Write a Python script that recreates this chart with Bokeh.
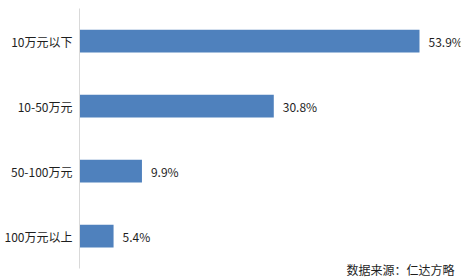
from bokeh.plotting import figure
from bokeh.models import ColumnDataSource, Label, Range1d, FixedTicker
from bokeh.core.properties import value
from bokeh.embed import file_html
from bokeh.resources import INLINE

# Investment scale buckets and their shares (%)
categories = ["10万元以下", "10-50万元", "50-100万元", "100万元以上"]
shares = [53.9, 30.8, 9.9, 5.4]
share_labels = ["53.9%", "30.8%", "9.9%", "5.4%"]
source_note = "数据来源：仁达方略"

FONT = "Noto Sans CJK SC"
TEXT_COLOR = "#1e1e1e"
BAR_COLOR = "#4F81BD"

# first category at the top
n = len(categories)
ypos = [n - i for i in range(n)]

src = ColumnDataSource(dict(y=ypos, val=shares, lab=share_labels))

p = figure(
    width=471, height=279,
    y_range=Range1d(0.331, n + 0.5),
    x_range=Range1d(0, 60.4),
    output_backend="svg", toolbar_location=None,
    min_border_left=79, min_border_right=11,
    min_border_top=8, min_border_bottom=0,
)
p.outline_line_color = None
p.background_fill_color = "white"
p.border_fill_color = "white"
p.xgrid.visible = False
p.ygrid.visible = False
p.xaxis.visible = False

yax = p.yaxis[0]
yax.ticker = FixedTicker(ticks=ypos)
yax.major_label_overrides = {y: c for y, c in zip(ypos, categories)}
yax.bounds = (0.5, n + 0.5)
yax.axis_line_color = "#d9d9d9"
yax.axis_line_width = 1
yax.major_tick_line_color = None
yax.major_tick_out = 0
yax.major_tick_in = 0
yax.minor_tick_line_color = None
yax.major_label_standoff = 7
yax.major_label_text_font = FONT
yax.major_label_text_font_size = "12px"
yax.major_label_text_color = TEXT_COLOR

p.hbar(y="y", right="val", left=0, height=0.35, source=src,
       fill_color=BAR_COLOR, line_color=None)

p.text(x="val", y="y", text="lab", source=src,
       x_offset=9, text_baseline="middle", text_align="left",
       text_font=value(FONT), text_font_size="12px", text_color=TEXT_COLOR)

p.add_layout(Label(
    x=267, y=10, x_units="screen", y_units="screen",
    text=source_note, text_baseline="middle", text_align="left",
    text_font=FONT, text_font_size="12px", text_color=TEXT_COLOR,
))

open("out.html", "w").write(file_html(p, INLINE))
